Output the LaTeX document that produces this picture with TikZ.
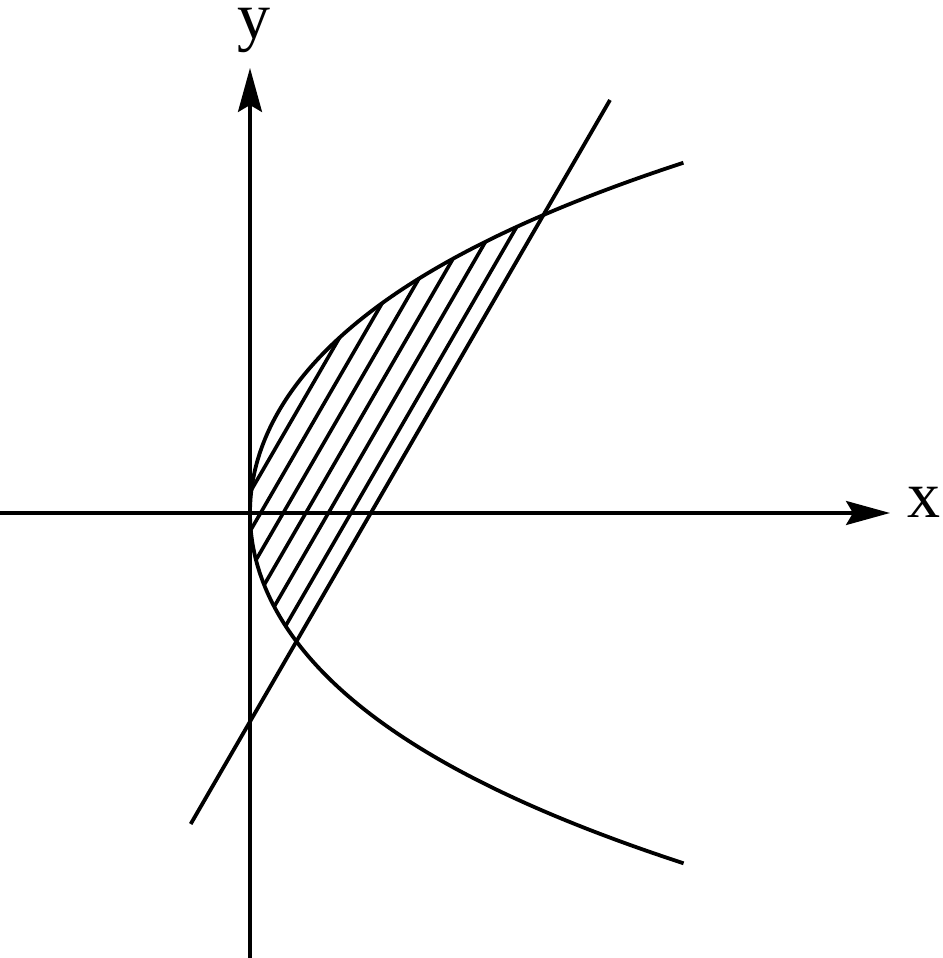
\documentclass[tikz,border=0pt]{standalone}
\usepackage{fontspec}
\setmainfont{Liberation Serif}
\usetikzlibrary{arrows.meta}

\begin{document}
\begin{tikzpicture}[x=1pt, y=1pt, line width=3.8pt,
    axis/.style = {line width=3.4pt, -{Stealth[length=44pt, width=24pt, inset=7pt]}},
    hatch/.style = {line width=3.6pt},
    every node/.style = {font=\fontsize{66}{70}\selectfont, inner sep=0pt}]
  \useasboundingbox (-250,-445) rectangle (692,513);
  \coordinate (O) at (0,0);
  \coordinate (xstart) at (-250,0);
  \coordinate (xend) at (640,0);
  \coordinate (ystart) at (0,-445);
  \coordinate (yend) at (0,445);
  \coordinate (ltop) at (360,413);
  \coordinate (lbot) at (-59.3,-311);
  % hatched region between curve and line
  \begin{scope}
    \clip plot[domain=-3.503:3.503, samples=80, variable=\u]
      ({27.022*\u*\u + 0.6776*\u*\u*\u*\u}, {100*\u}) -- cycle;
    \clip (lbot) -- (ltop) -- (-250,413) -- (-250,-311) -- cycle;
    \foreach \k in {0,...,5}
      \draw[hatch] ({-12+22.6*\k-0.5791*400},-400) -- ({-12+22.6*\k+0.5791*400},400);
  \end{scope}
  \draw[axis] (xstart) -- (xend);
  \draw[axis] (ystart) -- (yend);
  \draw plot[smooth, domain=-3.503:3.503, samples=120, variable=\u]
    ({27.022*\u*\u + 0.6776*\u*\u*\u*\u}, {100*\u});
  \draw (lbot) -- (ltop);
  \node[anchor=base] (xlabel) at (674,-5) {x};
  \node[anchor=base] (ylabel) at (4,474) {y};
\end{tikzpicture}
\end{document}
